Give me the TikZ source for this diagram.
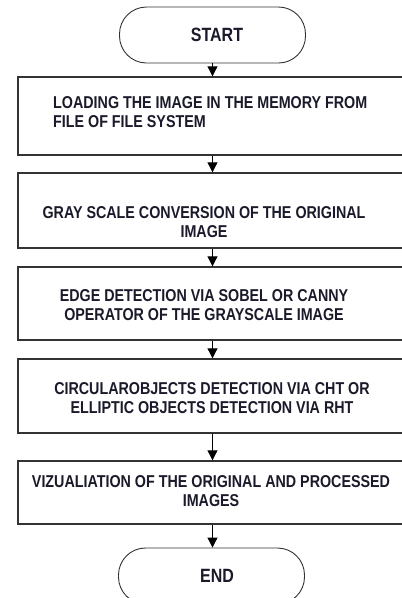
\documentclass[tikz,border=0pt]{standalone}
\usepackage{fontspec}
\setmainfont{Liberation Sans}
\usetikzlibrary{arrows.meta}
\definecolor{lineclr}{HTML}{333333}
\definecolor{txtclr}{HTML}{1A1A2A}
\newcommand{\tallc}[1]{\scalebox{1}[1.2]{\begin{tabular}{@{}c@{}}#1\end{tabular}}}
\newcommand{\talll}[1]{\scalebox{1}[1.2]{\begin{tabular}{@{}l@{}}#1\end{tabular}}}
\tikzset{
  stepbox/.style={draw=lineclr, line width=1.4pt, minimum width=392pt, inner sep=0pt},
  term/.style={draw=lineclr, line width=0.9pt, rounded corners=27pt, minimum width=186pt, minimum height=56pt, inner sep=0pt, font=\fontsize{16}{19}\selectfont\bfseries, text=txtclr},
  lbl/.style={font=\fontsize{14.3}{15.6}\selectfont\bfseries, text=txtclr, inner sep=0pt},
  flow/.style={draw=black, line width=1pt, -{Triangle[length=10pt,width=10pt]}}
}
\begin{document}
\begin{tikzpicture}[x=1pt,y=-1pt]
\useasboundingbox (0,0) rectangle (402,598);
\clip (0,0) rectangle (402,598);
\fill[white] (0,0) rectangle (402,598);
% terminals
\node[term] (s) at (212.5,35) {\hspace*{9pt}\scalebox{1}[1.2]{START}};
\node[term] (e) at (211.5,576) {\hspace*{11pt}\scalebox{1}[1.2]{END}};
% boxes
\node[stepbox, minimum height=78pt] (b1) at (214,116) {};
\node[stepbox, minimum height=75pt] (b2) at (214,210.5) {};
\node[stepbox, minimum height=73pt] (b3) at (214,303.5) {};
\node[stepbox, minimum height=74pt] (b4) at (214,396) {};
\node[stepbox, minimum height=63pt] (b5) at (214,492.5) {};
% texts
\node[lbl, anchor=west] (t1) at (53,114) {\talll{LOADING THE IMAGE IN THE MEMORY FROM\\FILE OF FILE SYSTEM}};
\node[lbl] (t2) at (204,224.5) {\tallc{GRAY SCALE CONVERSION OF THE ORIGINAL\\IMAGE}};
\node[lbl] (t3) at (204,307.5) {\tallc{EDGE DETECTION VIA SOBEL OR CANNY\\OPERATOR OF THE GRAYSCALE IMAGE}};
\node[lbl] (t4) at (212,400.5) {\tallc{CIRCULAROBJECTS DETECTION VIA CHT OR\\ELLIPTIC OBJECTS DETECTION VIA RHT}};
\node[lbl] (t5) at (211,493) {\tallc{VIZUALIATION OF THE ORIGINAL AND PROCESSED\\IMAGES}};
% connectors
\draw[flow] (s.south) -- (s.south |- b1.north);
\draw[flow] (b1.south -| s.south) -- (s.south |- b2.north);
\draw[flow] (b2.south -| s.south) -- (s.south |- b3.north);
\draw[flow] (b3.south -| s.south) -- (s.south |- b4.north);
\draw[flow] (b4.south -| s.south) -- (s.south |- b5.north);
\draw[flow] (b5.south -| s.south) -- (s.south |- e.north);
\end{tikzpicture}
\end{document}
